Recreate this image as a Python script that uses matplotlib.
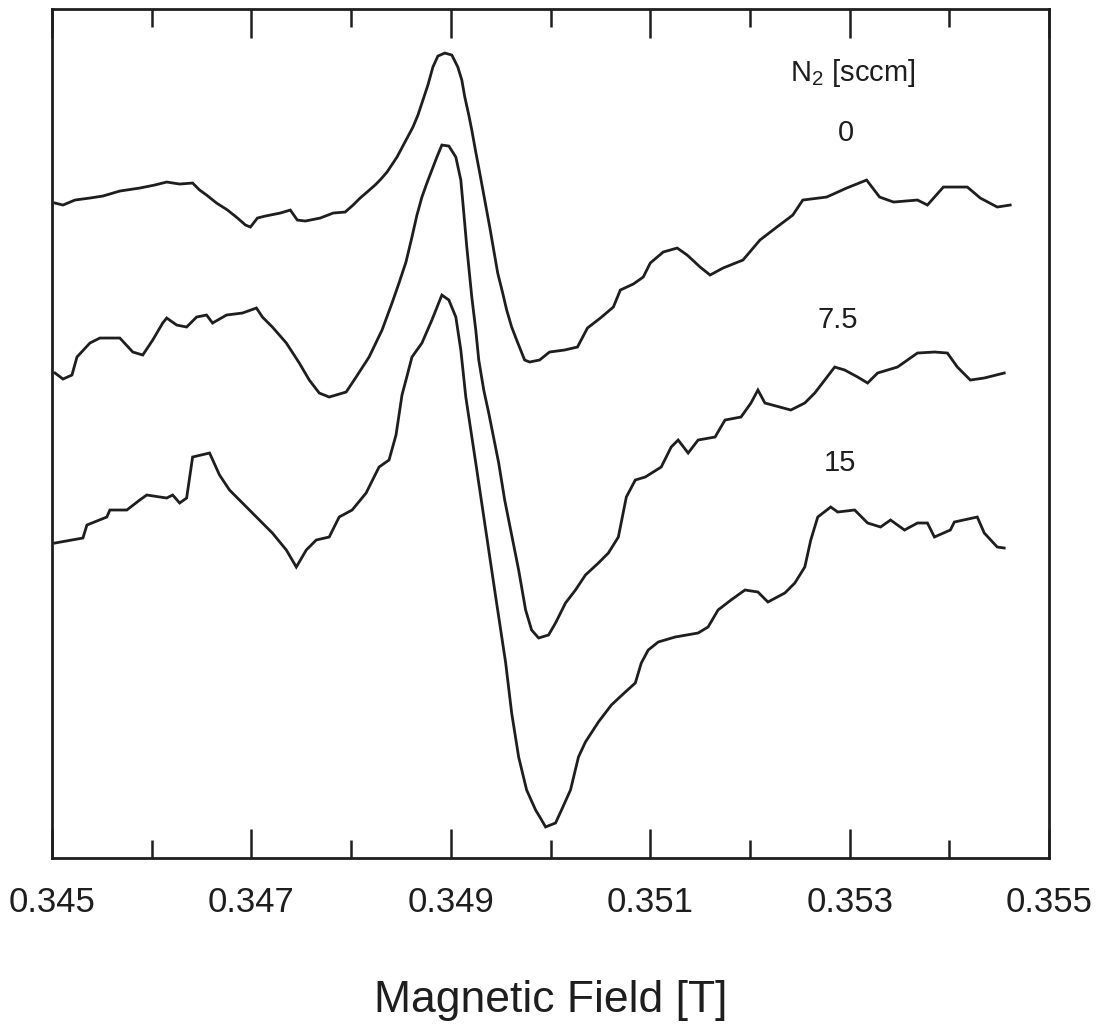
import matplotlib
matplotlib.use("Agg")
import matplotlib.pyplot as plt
from matplotlib.ticker import FixedLocator, FuncFormatter

plt.rcParams['font.family'] = ['Liberation Sans', 'DejaVu Sans']
plt.rcParams['mathtext.fontset'] = 'custom'
plt.rcParams['mathtext.rm'] = 'Liberation Sans'
plt.rcParams['mathtext.it'] = 'Liberation Sans'

# EPR spectra (derivative signal, arbitrary units, vertically offset) for
# three N2 flow rates.  Field in tesla.
field_0 = [0.34503, 0.34511, 0.34523, 0.34538, 0.34551, 0.34568, 0.34588, 0.34603,
           0.34615, 0.34628, 0.34641, 0.34648, 0.34655, 0.34665, 0.34676, 0.34686,
           0.34694, 0.34699, 0.34706, 0.34714, 0.34729, 0.34739, 0.34746, 0.34754,
           0.34769, 0.34782, 0.34794, 0.34802, 0.34809, 0.34816, 0.34824, 0.34829,
           0.34836, 0.34846, 0.34854, 0.34862, 0.34867, 0.34872, 0.34877, 0.34882,
           0.34887, 0.34894, 0.34901, 0.34907, 0.34911, 0.34914, 0.34918, 0.34921,
           0.34925, 0.34929, 0.34934, 0.34939, 0.34943, 0.34947, 0.34952, 0.34956,
           0.34961, 0.34966, 0.34970, 0.34974, 0.34979, 0.34989, 0.34999, 0.35014,
           0.35027, 0.35037, 0.35050, 0.35063, 0.35070, 0.35083, 0.35093, 0.35100,
           0.35113, 0.35127, 0.35137, 0.35150, 0.35160, 0.35173, 0.35193, 0.35210,
           0.35227, 0.35243, 0.35253, 0.35277, 0.35297, 0.35317, 0.35330, 0.35344,
           0.35368, 0.35378, 0.35394, 0.35418, 0.35431, 0.35448, 0.35461]
signal_0 = [655, 653, 658, 660, 662, 667, 670, 673,
            676, 674, 675, 668, 663, 655, 648, 640,
            633, 631, 640, 642, 645, 648, 638, 637,
            640, 645, 646, 653, 660, 666, 673, 678,
            686, 701, 716, 731, 743, 758, 773, 791,
            802, 805, 803, 791, 778, 761, 743, 728,
            706, 685, 658, 631, 608, 585, 565, 548,
            531, 518, 508, 498, 496, 498, 506, 508,
            511, 530, 540, 551, 568, 574, 581, 595,
            606, 610, 603, 591, 583, 590, 598, 618,
            631, 643, 658, 661, 670, 678, 661, 656,
            658, 653, 671, 671, 660, 651, 653]

field_75 = [0.34503, 0.34511, 0.34520, 0.34525, 0.34538, 0.34548, 0.34568, 0.34581,
            0.34591, 0.34601, 0.34611, 0.34615, 0.34625, 0.34635, 0.34645, 0.34655,
            0.34661, 0.34675, 0.34691, 0.34705, 0.34711, 0.34721, 0.34735, 0.34748,
            0.34758, 0.34768, 0.34778, 0.34795, 0.34805, 0.34818, 0.34831, 0.34841,
            0.34848, 0.34855, 0.34861, 0.34866, 0.34871, 0.34876, 0.34881, 0.34886,
            0.34891, 0.34898, 0.34905, 0.34910, 0.34913, 0.34916, 0.34921, 0.34925,
            0.34928, 0.34933, 0.34938, 0.34948, 0.34954, 0.34960, 0.34968, 0.34975,
            0.34981, 0.34988, 0.34998, 0.35005, 0.35015, 0.35025, 0.35035, 0.35048,
            0.35058, 0.35068, 0.35076, 0.35085, 0.35095, 0.35111, 0.35121, 0.35128,
            0.35138, 0.35148, 0.35165, 0.35175, 0.35191, 0.35201, 0.35208, 0.35215,
            0.35241, 0.35255, 0.35265, 0.35275, 0.35285, 0.35295, 0.35308, 0.35318,
            0.35328, 0.35348, 0.35368, 0.35385, 0.35398, 0.35408, 0.35421, 0.35435,
            0.35455]
signal_75 = [485, 479, 483, 501, 515, 520, 520, 506,
             503, 518, 535, 540, 533, 531, 541, 543,
             535, 543, 545, 550, 541, 531, 515, 495,
             478, 465, 461, 466, 481, 501, 528, 555,
             575, 596, 621, 643, 661, 675, 688, 701,
             713, 712, 701, 678, 645, 611, 561, 528,
             498, 468, 445, 395, 358, 328, 288, 248,
             228, 220, 223, 235, 255, 268, 283, 295,
             305, 321, 361, 378, 381, 391, 411, 418,
             405, 418, 421, 438, 441, 455, 468, 455,
             448, 455, 465, 478, 491, 488, 481, 475,
             485, 491, 505, 506, 505, 491, 478, 480,
             485]

field_15 = [0.34503, 0.34531, 0.34535, 0.34555, 0.34558, 0.34575, 0.34588, 0.34595,
            0.34615, 0.34621, 0.34628, 0.34635, 0.34641, 0.34658, 0.34668, 0.34678,
            0.34688, 0.34698, 0.34708, 0.34721, 0.34735, 0.34745, 0.34755, 0.34765,
            0.34778, 0.34788, 0.34801, 0.34815, 0.34828, 0.34838, 0.34845, 0.34851,
            0.34855, 0.34861, 0.34871, 0.34881, 0.34891, 0.34898, 0.34905, 0.34910,
            0.34915, 0.34925, 0.34935, 0.34945, 0.34955, 0.34961, 0.34968, 0.34976,
            0.34985, 0.34991, 0.34995, 0.35005, 0.35011, 0.35020, 0.35028, 0.35035,
            0.35048, 0.35061, 0.35075, 0.35085, 0.35091, 0.35098, 0.35108, 0.35125,
            0.35148, 0.35158, 0.35168, 0.35181, 0.35195, 0.35208, 0.35218, 0.35235,
            0.35245, 0.35255, 0.35261, 0.35268, 0.35281, 0.35288, 0.35305, 0.35318,
            0.35331, 0.35341, 0.35355, 0.35368, 0.35378, 0.35385, 0.35401, 0.35405,
            0.35428, 0.35435, 0.35448, 0.35455]
signal_15 = [315, 320, 333, 341, 348, 348, 358, 363,
             360, 363, 355, 360, 401, 405, 383, 368,
             358, 348, 338, 325, 308, 291, 308, 318,
             321, 341, 348, 365, 391, 398, 423, 463,
             478, 501, 515, 538, 563, 558, 541, 508,
             461, 395, 328, 261, 195, 145, 101, 68,
             48, 38, 31, 35, 48, 68, 101, 116,
             136, 153, 166, 175, 195, 208, 216, 221,
             225, 231, 248, 258, 268, 266, 256, 265,
             275, 291, 318, 341, 351, 346, 348, 335,
             331, 338, 328, 335, 335, 321, 328, 336,
             341, 325, 311, 310]

flow_labels = ["0", "7.5", "15"]
label_field = [0.35296, 0.35288, 0.35290]
label_level = [725, 538, 395]

major_ticks = [0.345, 0.347, 0.349, 0.351, 0.353, 0.355]
minor_ticks = [0.346, 0.348, 0.350, 0.352, 0.354]

ink = '#1e1e1e'

fig = plt.figure(figsize=(11.0, 10.29), dpi=100)
ax = fig.add_axes([0.0473, 0.1662, 0.9064, 0.8250])

for f, s in [(field_0, signal_0), (field_75, signal_75), (field_15, signal_15)]:
    ax.plot(f, s, color=ink, lw=2.0, solid_joinstyle='miter')

ax.text(0.35303, 785, r'$\mathregular{N_2}$ [sccm]', ha='center', va='center',
        fontsize=21, color=ink)
for lab, fx, ly in zip(flow_labels, label_field, label_level):
    ax.text(fx, ly, lab, ha='center', va='center', fontsize=21, color=ink)

ax.set_xlim(0.345, 0.355)
ax.set_ylim(0, 849)

ax.xaxis.set_major_locator(FixedLocator(major_ticks))
ax.xaxis.set_minor_locator(FixedLocator(minor_ticks))
ax.xaxis.set_major_formatter(FuncFormatter(lambda v, p: f"{v:.3f}"))
ax.tick_params(axis='x', which='both', direction='in', top=True, bottom=True,
               width=1.8, color=ink, labelsize=25, labelcolor=ink, pad=20)
ax.tick_params(axis='x', which='major', length=21)
ax.tick_params(axis='x', which='minor', length=13)
ax.set_yticks([])

for sp in ax.spines.values():
    sp.set_linewidth(2.0)
    sp.set_color(ink)

ax.set_xlabel('Magnetic Field [T]', fontsize=32, color=ink, labelpad=44)

fig.savefig('out.png', dpi=100, facecolor='white')
